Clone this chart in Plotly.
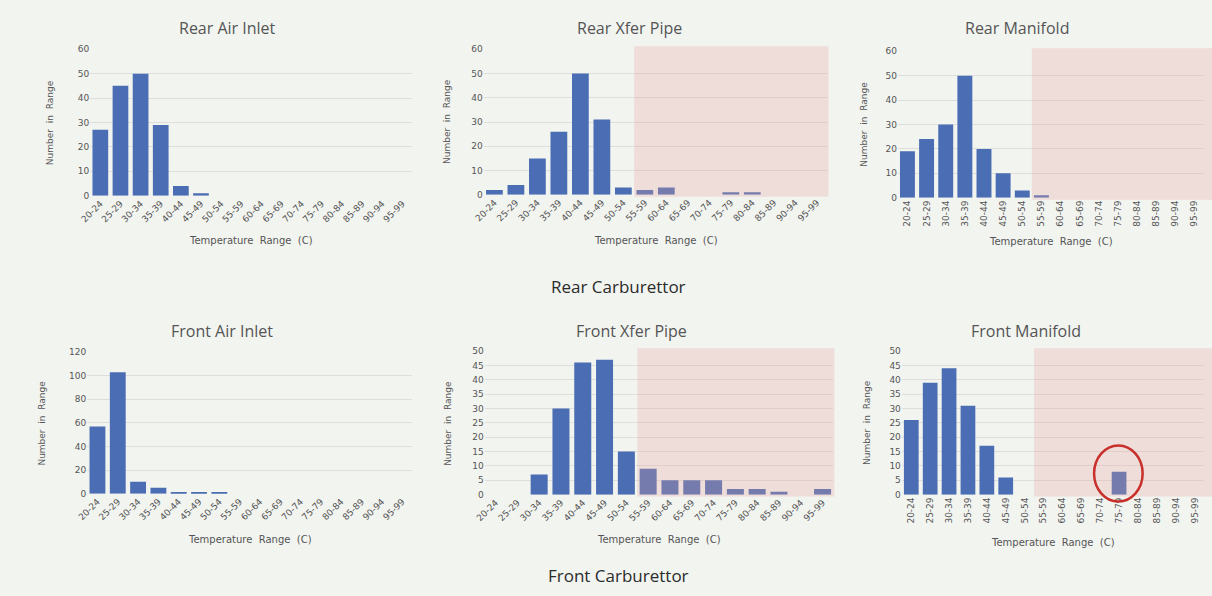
import plotly.graph_objects as go

categories = ["20-24", "25-29", "30-34", "35-39", "40-44", "45-49", "50-54", "55-59",
              "60-64", "65-69", "70-74", "75-79", "80-84", "85-89", "90-94", "95-99"]

rear_air_inlet = [27, 45, 50, 29, 4, 1, 0, 0, 0, 0, 0, 0, 0, 0, 0, 0]
rear_xfer_pipe = [2, 4, 15, 26, 50, 31, 3, 2, 3, 0, 0, 1, 1, 0, 0, 0]
rear_manifold = [19, 24, 30, 50, 20, 10, 3, 1, 0, 0, 0, 0, 0, 0, 0, 0]
front_air_inlet = [57, 103, 10, 5, 1, 1, 1, 0, 0, 0, 0, 0, 0, 0, 0, 0]
front_xfer_pipe = [0, 0, 7, 30, 46, 47, 15, 9, 5, 5, 5, 2, 2, 1, 0, 2]
front_manifold = [26, 39, 44, 31, 17, 6, 0, 0, 0, 0, 0, 8, 0, 0, 0, 0]

titles = ["Rear Air Inlet", "Rear Xfer Pipe", "Rear Manifold",
          "Front Air Inlet", "Front Xfer Pipe", "Front Manifold"]
series = [rear_air_inlet, rear_xfer_pipe, rear_manifold,
          front_air_inlet, front_xfer_pipe, front_manifold]
y_max = [60, 60, 60, 120, 50, 50]
y_step = [10, 10, 10, 20, 5, 5]

W, H = 1212, 596
BAR = "#4a6db3"
TXT = "#555555"

# pixel layout of each panel: (x0, x1, ytop, ybottom, tickangle, title_x, title_y, ytitle_x, xtitle_y, shaded)
layout_px = [
    (80, 405, 45, 194, -45, 218, 23, 40, 240, False),
    (477, 824, 45, 193, -45, 624, 23, 440, 240, True),
    (895, 1204, 47, 196, -90, 1015, 23, 861, 241, True),
    (77, 405, 353, 497, -45, 213, 332, 31, 544, False),
    (478, 830, 352, 498, -45, 626, 332, 441, 544, True),
    (899, 1204, 352, 498, -90, 1024, 332, 864, 547, True),
]

def px_x(v):
    return v / W

def px_y(v):
    return 1 - v / H

fig = go.Figure()
shapes = []
annotations = []

def note(text, x, y, size, family="DejaVu Sans", color=TXT, angle=0):
    annotations.append(dict(text=text, x=px_x(x), y=px_y(y), xref="paper", yref="paper",
                            xanchor="center", yanchor="middle", textangle=angle,
                            showarrow=False, font=dict(family=family, size=size, color=color)))

for i, (title, vals, ym, ys, lp) in enumerate(zip(titles, series, y_max, y_step, layout_px)):
    x0, x1, yt, yb, ang, tx, ty, ytx, xty, shaded = lp
    n = i + 1
    xa = "x" if n == 1 else f"x{n}"
    ya = "y" if n == 1 else f"y{n}"
    fig.add_trace(go.Bar(x=categories, y=vals, xaxis=xa, yaxis=ya,
                         marker=dict(color=BAR, line=dict(width=0)),
                         width=0.78, showlegend=False, hoverinfo="x+y"))
    xkey = "xaxis" if n == 1 else f"xaxis{n}"
    ykey = "yaxis" if n == 1 else f"yaxis{n}"
    fig.layout[xkey] = dict(domain=[px_x(x0), px_x(x1)], anchor=ya, type="category",
                            tickangle=ang, showgrid=False, showline=False, ticks="",
                            tickfont=dict(family="DejaVu Sans", size=9, color=TXT),
                            fixedrange=True, range=[-0.5, 15.5])
    fig.layout[ykey] = dict(domain=[px_y(yb), px_y(yt)], anchor=xa, range=[0, ym], dtick=ys,
                            showgrid=True, gridcolor="#dedfdc", gridwidth=1, zeroline=False,
                            showline=False, ticks="",
                            tickfont=dict(family="DejaVu Sans", size=9, color=TXT),
                            fixedrange=True)
    note(title, tx, ty, 16, family="Open Sans")
    note("Number  in  Range", ytx, (yt + yb) / 2, 9, angle=-90)
    note("Temperature  Range  (C)", (x0 + x1) / 2, xty, 10)
    if shaded:
        right = 1.0 if x1 > 1000 else px_x(x1 + 1)
        shapes.append(dict(type="rect", xref="paper", yref="paper",
                           x0=px_x(x0 + 7 * (x1 - x0) / 16), x1=right,
                           y0=px_y(yb + 2), y1=px_y(yt - 3),
                           fillcolor="rgba(232,160,160,0.28)", line=dict(width=0), layer="above"))

# red circle highlighting the 75-79 bar on Front Manifold
shapes.append(dict(type="circle", xref="paper", yref="paper",
                   x0=px_x(1093), x1=px_x(1142), y0=px_y(505), y1=px_y(448),
                   line=dict(color="#c8302c", width=2.5), layer="above"))

note("Rear Carburettor", 613, 286, 17, family="Open Sans", color="#2b2b2b")
note("Front Carburettor", 613, 580, 17, family="Open Sans", color="#2b2b2b")

fig.update_layout(width=W, height=H, margin=dict(l=0, r=0, t=0, b=0),
                  paper_bgcolor="#f2f4f0", plot_bgcolor="rgba(0,0,0,0)",
                  shapes=shapes, annotations=annotations, bargap=0.2)

fig.write_html("out.html", config={"displayModeBar": False})

with open("out.html", "r", encoding="utf-8") as f:
    html = f.read()
html = html.replace("<head>", "<head><style>html,body{margin:0;padding:0;background:#f2f4f0;overflow:hidden;}</style>", 1)
with open("out.html", "w", encoding="utf-8") as f:
    f.write(html)
